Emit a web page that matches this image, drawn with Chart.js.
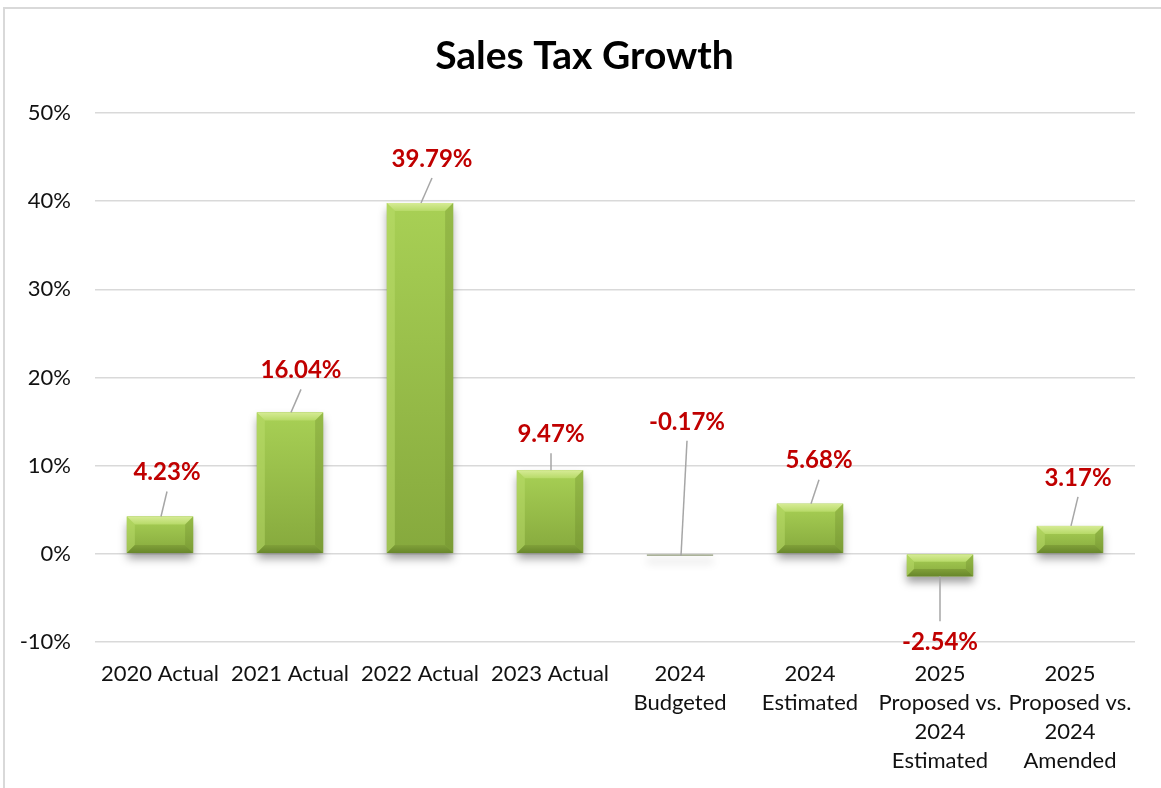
<!DOCTYPE html>
<html>
<head>
<meta charset="utf-8">
<title>Sales Tax Growth</title>
<script src="https://cdn.jsdelivr.net/npm/chart.js@4.4.1/dist/chart.umd.min.js"></script>
<style>
  html, body { margin: 0; padding: 0; background: #fff; overflow: hidden; }
  .frame {
    position: absolute; left: 3px; top: 7px; width: 1220px; height: 840px;
    border: 2px solid #d9d9d9;
  }
  .wrap { position: absolute; left: 0; top: 0; width: 1161px; height: 788px; }
</style>
</head>
<body>
<div class="frame"></div>
<div class="wrap"><canvas id="chart"></canvas></div>
<script>
// categories and growth rates (percent)
const categories = [
  ['2020 Actual'],
  ['2021 Actual'],
  ['2022 Actual'],
  ['2023 Actual'],
  ['2024', 'Budgeted'],
  ['2024', 'Estimated'],
  ['2025', 'Proposed vs.', '2024', 'Estimated'],
  ['2025', 'Proposed vs.', '2024', 'Amended']
];
const growth = [4.23, 16.04, 39.79, 9.47, -0.17, 5.68, -2.54, 3.17];
const yMin = -10;
const yMax = 50;
const yStep = 10;
const chartTitle = 'Sales Tax Growth';

// where each value label sits relative to the end of its bar (px)
const labelOffsets = [[7, -44], [11, -42], [12, -44], [1, -36], [7, -134], [9, -43], [0, 66], [8, -48]];

const FONT = 'Lato, "Open Sans", sans-serif';

// title centred on the whole frame rather than the plot
const frameTitle = {
  id: 'frameTitle',
  afterDraw(chart) {
    const ctx = chart.ctx;
    ctx.save();
    ctx.font = 'bold 39px ' + FONT;
    ctx.fillStyle = '#000';
    ctx.textAlign = 'center';
    ctx.textBaseline = 'middle';
    ctx.fillText(chartTitle, chart.width / 2 + 4, 56);
    ctx.restore();
  }
};

// soft drop shadow under the bars
const barShadow = {
  id: 'barShadow',
  beforeDatasetDraw(chart) {
    const ctx = chart.ctx;
    ctx.save();
    ctx.shadowColor = 'rgba(0,0,0,0.38)';
    ctx.shadowBlur = 9;
    ctx.shadowOffsetY = 6;
  },
  afterDatasetDraw(chart) {
    chart.ctx.restore();
  }
};

function trap(ctx, pts, color) {
  ctx.fillStyle = color;
  ctx.beginPath();
  ctx.moveTo(pts[0], pts[1]);
  for (let k = 2; k < pts.length; k += 2) ctx.lineTo(pts[k], pts[k + 1]);
  ctx.closePath();
  ctx.fill();
}

// bevelled edges on top of each bar
const barBevel = {
  id: 'barBevel',
  afterDatasetsDraw(chart) {
    const ctx = chart.ctx;
    chart.getDatasetMeta(0).data.forEach(bar => {
      const L = bar.x - bar.width / 2, R = bar.x + bar.width / 2;
      const T = Math.min(bar.y, bar.base), B = Math.max(bar.y, bar.base);
      const h = B - T;
      if (h < 4) return;
      const b = Math.min(8, h / 3);
      ctx.save();
      const g = ctx.createLinearGradient(0, T, 0, B);
      g.addColorStop(0, '#a8d055');
      g.addColorStop(1, '#86a93d');
      ctx.fillStyle = g;
      ctx.fillRect(L, T, R - L, h);
      const gt = ctx.createLinearGradient(0, T, 0, T + b);
      gt.addColorStop(0, '#d6eb95');
      gt.addColorStop(1, '#b7da68');
      trap(ctx, [L, T, R, T, R - b, T + b, L + b, T + b], gt);
      trap(ctx, [L, T, L + b, T + b, L + b, B - b, L, B], 'rgba(190,225,110,0.45)');
      trap(ctx, [R, T, R - b, T + b, R - b, B - b, R, B], 'rgba(90,120,30,0.25)');
      const gb = ctx.createLinearGradient(0, B - b, 0, B);
      gb.addColorStop(0, '#80a039');
      gb.addColorStop(1, '#68872b');
      trap(ctx, [L, B, L + b, B - b, R - b, B - b, R, B], gb);
      ctx.restore();
    });
  }
};

// red value labels with grey leader lines
const valueLabels = {
  id: 'valueLabels',
  afterDatasetsDraw(chart) {
    const ctx = chart.ctx;
    const meta = chart.getDatasetMeta(0);
    ctx.save();
    ctx.font = 'bold 24px ' + FONT;
    ctx.textAlign = 'center';
    ctx.textBaseline = 'middle';
    meta.data.forEach((bar, i) => {
      const v = growth[i];
      const [dx, dy] = labelOffsets[i];
      const ax = bar.x + (dx > 0 ? 1 : 0), ay = bar.y;
      const lx = bar.x + dx, ly = bar.y + dy;
      const ey = dy < 0 ? ly + 19 : ly - 21;
      ctx.strokeStyle = '#a6a6a6';
      ctx.lineWidth = 1.5;
      ctx.beginPath();
      ctx.moveTo(ax, ay);
      ctx.lineTo(lx, ey);
      ctx.stroke();
      ctx.fillStyle = '#c00000';
      ctx.fillText(v.toFixed(2) + '%', lx, ly);
    });
    ctx.restore();
  }
};

new Chart(document.getElementById('chart'), {
  type: 'bar',
  data: {
    labels: categories,
    datasets: [{
      data: growth,
      backgroundColor: ctx => growth[ctx.dataIndex] > -1 && growth[ctx.dataIndex] < 0 ? '#8f9a78' : '#96be46',
      borderWidth: 0,
      barPercentage: 0.51,
      categoryPercentage: 1,
      minBarLength: 2
    }]
  },
  options: {
    responsive: true,
    maintainAspectRatio: false,
    animation: false,
    layout: { padding: { left: 0, right: 26, top: 113, bottom: 0 } },
    plugins: {
      legend: { display: false },
      tooltip: { enabled: false },
      title: { display: false }
    },
    scales: {
      x: {
        grid: { display: false },
        border: { display: false },
        ticks: {
          color: '#111',
          font: { family: FONT, size: 22, lineHeight: 1.32 },
          padding: 9,
          maxRotation: 0,
          autoSkip: false
        },
        afterFit(scale) { scale.height = 146; }
      },
      y: {
        min: yMin,
        max: yMax,
        grid: { color: '#d9d9d9', lineWidth: 1.5, drawTicks: false },
        border: { display: false },
        ticks: {
          stepSize: yStep,
          color: '#111',
          font: { family: FONT, size: 22 },
          padding: 24,
          callback: v => v + '%'
        },
        afterFit(scale) { scale.width = 95; }
      }
    }
  },
  plugins: [barShadow, barBevel, valueLabels, frameTitle]
});
</script>
</body>
</html>
